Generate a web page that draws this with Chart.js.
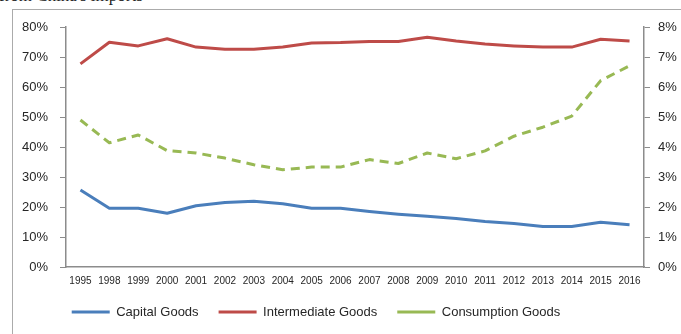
<!DOCTYPE html>
<html>
<head>
<meta charset="utf-8">
<script src="https://cdn.jsdelivr.net/npm/chart.js@4/dist/chart.umd.min.js"></script>
<style>
  html, body { margin: 0; padding: 0; background: #fff; overflow: hidden; }
  #wrap { position: relative; width: 681px; height: 334px; overflow: hidden; }
  #caption { position: absolute; left: -1px; top: -14px; font: 17px "Liberation Serif", serif; color: #222; white-space: nowrap; }
  #frame { position: absolute; left: 12px; top: 9px; width: 720px; height: 400px; border: 1px solid #ababab; }
  canvas { position: absolute; left: 0; top: 0; }
</style>
</head>
<body>
<div id="wrap">
  <div id="caption">from China's imports</div>
  <div id="frame"></div>
  <canvas id="c" width="681" height="334"></canvas>
</div>
<script>
// Years on the category axis
const years = ['1995', '1998', '1999', '2000', '2001', '2002', '2003', '2004', '2005', '2006',
               '2007', '2008', '2009', '2010', '2011', '2012', '2013', '2014', '2015', '2016'];

// Shares, in percent (left axis)
const capitalGoods = [25.7, 19.6, 19.6, 17.9, 20.4, 21.5, 21.9, 21.1, 19.6, 19.6,
                      18.5, 17.6, 16.9, 16.2, 15.2, 14.5, 13.5, 13.5, 14.9, 14.1];
const intermediateGoods = [67.7, 74.9, 73.7, 76.1, 73.3, 72.6, 72.6, 73.3, 74.7, 74.8,
                           75.2, 75.2, 76.6, 75.3, 74.3, 73.7, 73.3, 73.3, 75.9, 75.3];
// Share, in percent (right axis)
const consumptionGoods = [4.90, 4.14, 4.40, 3.88, 3.80, 3.63, 3.41, 3.24, 3.33, 3.33,
                          3.58, 3.45, 3.80, 3.61, 3.87, 4.36, 4.66, 5.03, 6.21, 6.71];

// Axis ranges
const leftMax = 80, leftStep = 10;
const rightMax = 8, rightStep = 1;

const axisGrey = '#8c8c8c';
const textColor = '#262626';

// Places the legend row and its vertical position below the axis labels
const legendPlacement = {
  id: 'legendPlacement',
  afterLayout(chart) {
    const lg = chart.legend;
    if (!lg) return;
    const h = lg.bottom - lg.top;
    lg.left = 0;
    lg.right = 632;
    lg.top = 285.5;
    lg.bottom = lg.top + h;
  }
};

new Chart(document.getElementById('c'), {
  type: 'line',
  data: {
    labels: years,
    datasets: [
      { label: 'Capital Goods', data: capitalGoods, yAxisID: 'y',
        borderColor: '#4a7ebb', backgroundColor: '#4a7ebb', borderWidth: 3 },
      { label: 'Intermediate Goods', data: intermediateGoods, yAxisID: 'y',
        borderColor: '#be4b48', backgroundColor: '#be4b48', borderWidth: 3 },
      { label: 'Consumption Goods', data: consumptionGoods, yAxisID: 'y2',
        borderColor: '#98b954', backgroundColor: '#98b954', borderWidth: 3, borderDash: [9, 6] }
    ]
  },
  options: {
    responsive: false,
    animation: false,
    devicePixelRatio: 1,
    layout: { padding: { top: 27, left: 0, right: 0, bottom: 0 } },
    elements: {
      line: { tension: 0, fill: false, borderCapStyle: 'butt', borderJoinStyle: 'round' },
      point: { radius: 0, hoverRadius: 0 }
    },
    plugins: {
      tooltip: { enabled: false },
      legend: {
        position: 'bottom',
        align: 'center',
        labels: {
          usePointStyle: true,
          pointStyle: 'line',
          pointStyleWidth: 38,
          padding: 20,
          color: textColor,
          font: { family: '"Liberation Sans", Arial, sans-serif', size: 13 }
        }
      }
    },
    scales: {
      x: {
        type: 'category',
        offset: true,
        grid: { display: false, drawTicks: false },
        border: { display: true, color: axisGrey, width: 1.5 },
        ticks: {
          color: textColor, padding: 8, maxRotation: 0, autoSkip: false,
          font: { family: '"Liberation Sans", Arial, sans-serif', size: 10 }
        },
        afterFit(scale) { scale.height = 24; }
      },
      y: {
        position: 'left',
        min: 0, max: leftMax,
        grid: { display: true, drawOnChartArea: false, drawTicks: true, tickLength: 6, color: axisGrey, lineWidth: 1 },
        border: { display: true, color: axisGrey, width: 1.5 },
        ticks: {
          stepSize: leftStep, color: textColor, padding: 12,
          font: { family: '"Liberation Sans", Arial, sans-serif', size: 13 },
          callback: v => v + '%'
        },
        afterFit(scale) { scale.width = 66; }
      },
      y2: {
        position: 'right',
        min: 0, max: rightMax,
        grid: { display: true, drawOnChartArea: false, drawTicks: true, tickLength: 6, color: axisGrey, lineWidth: 1 },
        border: { display: true, color: axisGrey, width: 1.5 },
        ticks: {
          stepSize: rightStep, color: textColor, padding: 8,
          font: { family: '"Liberation Sans", Arial, sans-serif', size: 13 },
          callback: v => v + '%'
        },
        afterFit(scale) { scale.width = 37; }
      }
    }
  },
  plugins: [legendPlacement]
});
</script>
</body>
</html>
